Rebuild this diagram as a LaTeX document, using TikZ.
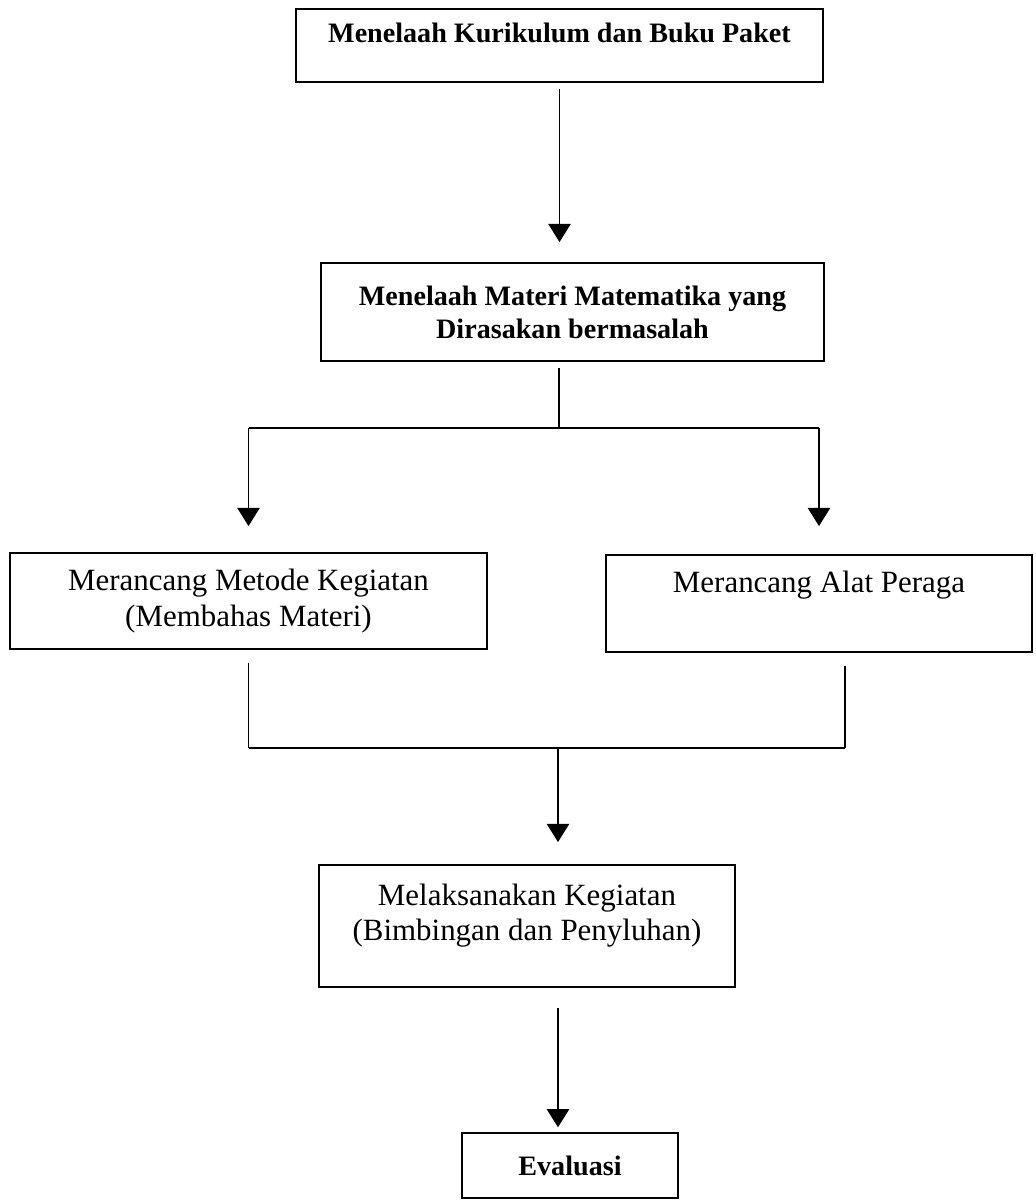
\documentclass[tikz,border=0pt]{standalone}
\usepackage{fontspec}
\setmainfont{Liberation Serif}
\usetikzlibrary{arrows.meta,positioning}
\tikzset{
  stepbox/.style={draw,line width=1.3pt,align=center,inner sep=0pt},
  boldtext/.style={font=\fontsize{20}{23.5}\selectfont\bfseries},
  plaintext/.style={font=\fontsize{22}{26}\selectfont},
  link/.style={line width=0.9pt},
  flowarrow/.style={line width=0.9pt,-{Triangle[width=16pt,length=13pt]}},
  lift/.style={text depth=#1}
}
\begin{document}
\begin{tikzpicture}[x=0.025cm,y=-0.025cm]
\useasboundingbox (0,0) rectangle (1035,1204);
% boxes
\node[stepbox,boldtext,lift=18pt,minimum width=13.175cm,minimum height=1.825cm] (kur) at (559.5,45.5) {Menelaah Kurikulum dan Buku Paket};
\node[stepbox,boldtext,minimum width=12.575cm,minimum height=2.45cm] (mat) at (572.5,312) {Menelaah Materi Matematika yang\\Dirasakan bermasalah};
\node[stepbox,plaintext,minimum width=11.925cm,minimum height=2.4cm] (met) at (248.5,601) {Merancang Metode Kegiatan\\(Membahas Materi)};
\node[stepbox,plaintext,lift=31pt,minimum width=10.65cm,minimum height=2.425cm] (ala) at (819,603.5) {Merancang Alat Peraga};
\node[stepbox,plaintext,lift=19pt,minimum width=10.4cm,minimum height=3.05cm,font=\fontsize{22}{25}\selectfont] (pel) at (527,926) {Melaksanakan Kegiatan\\(Bimbingan dan Penyluhan)};
\node[stepbox,boldtext,minimum width=5.4cm,minimum height=1.625cm] (eva) at (570,1165.5) {Evaluasi};
% branch and merge points
\coordinate (split) at (559,428);
\coordinate (join) at (558,748);
\coordinate (mergeright) at (845,748);
% connectors
\draw[flowarrow,shorten <=0.15cm,shorten >=0.5cm] (kur.south) -- (kur.south |- mat.north);
\draw[link,shorten <=0.15cm] (mat.south -| split) -- (split);
\draw[link] (split -| met) -- (split -| ala);
\draw[flowarrow,shorten >=0.65cm] (split -| met) -- (met.north);
\draw[flowarrow,shorten >=0.7cm] (split -| ala) -- (ala.north);
\draw[link,shorten <=0.33cm] (met.south) -- (join -| met);
\draw[link,shorten <=0.33cm] (ala.south -| mergeright) -- (mergeright);
\draw[link] (join -| met) -- (mergeright);
\draw[flowarrow,shorten >=0.55cm] (join) -- (join |- pel.north);
\draw[flowarrow,shorten <=0.5cm,shorten >=0.12cm] (join |- pel.south) -- (join |- eva.north);
\end{tikzpicture}
\end{document}
